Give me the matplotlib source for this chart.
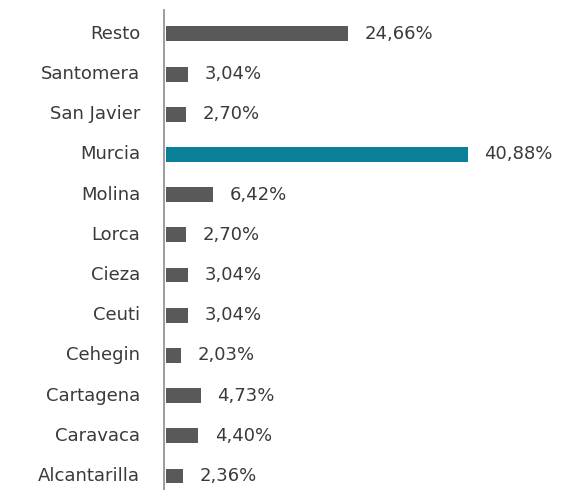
import matplotlib
matplotlib.use("Agg")
import matplotlib.pyplot as plt
import matplotlib.transforms as mtransforms

# de abajo hacia arriba
municipios = ["Alcantarilla", "Caravaca", "Cartagena", "Cehegin", "Ceuti", "Cieza",
              "Lorca", "Molina", "Murcia", "San Javier", "Santomera", "Resto"]
porcentajes = [2.36, 4.40, 4.73, 2.03, 3.04, 3.04, 2.70, 6.42, 40.88, 2.70, 3.04, 24.66]
destacado = "Murcia"

gris = "#595959"
azul = "#0a7f99"
texto = "#3a3a3a"

plt.rcParams['font.family'] = ['DejaVu Sans']

fig = plt.figure(figsize=(5.8, 4.9), dpi=100)
ax = fig.add_axes([0.283, 0.0, 0.70, 0.98])

colores = [azul if m == destacado else gris for m in municipios]
pos = range(len(municipios))
ax.barh(pos, porcentajes, height=0.37, color=colores, left=0.25)

# subir el texto un par de pixeles para centrarlo con las barras
subir = mtransforms.ScaledTranslation(0, 2 / 100, fig.dpi_scale_trans)
izq = mtransforms.ScaledTranslation(-24 / 100, 2 / 100, fig.dpi_scale_trans)

for y, v, m in zip(pos, porcentajes, municipios):
    ax.text(0.25 + v + 2.2, y, f"{v:.2f}%".replace(".", ","), va="center_baseline",
            ha="left", fontsize=13, color=texto, transform=ax.transData + subir)
    ax.text(0, y, m, va="center_baseline", ha="right", fontsize=13, color=texto,
            transform=ax.transData + izq)

ax.set_yticks([])
ax.set_xticks([])
ax.set_xlim(0, 55)
ax.set_ylim(-0.35, 11.6)
for s in ["top", "right", "bottom"]:
    ax.spines[s].set_visible(False)
ax.spines["left"].set_color("#8c8c8c")
ax.spines["left"].set_linewidth(1.2)

fig.savefig("out.png", dpi=100)
